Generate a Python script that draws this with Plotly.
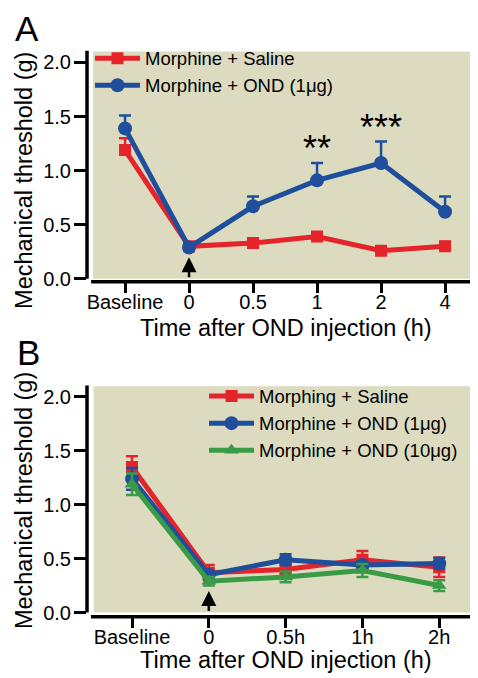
import plotly.graph_objects as go

# ---------------- data ----------------
categories_a = ["Baseline", "0", "0.5", "1", "2", "4"]
saline_a = [1.19, 0.30, 0.33, 0.39, 0.26, 0.30]
saline_a_err = [0.11, 0.03, 0.03, 0.03, 0.03, 0.04]
ond1_a = [1.39, 0.29, 0.67, 0.91, 1.07, 0.62]
ond1_a_err = [0.12, 0.03, 0.09, 0.16, 0.20, 0.14]
sig_a = {"1": ("**", 1.20), "2": ("***", 1.40)}

categories_b = ["Baseline", "0", "0.5h", "1h", "2h"]
saline_b = [1.35, 0.37, 0.40, 0.49, 0.42]
saline_b_err = [0.10, 0.07, 0.05, 0.08, 0.09]
ond1_b = [1.24, 0.35, 0.49, 0.44, 0.455]
ond1_b_err = [0.10, 0.04, 0.05, 0.04, 0.05]
ond10_b = [1.19, 0.29, 0.33, 0.39, 0.25]
ond10_b_err = [0.10, 0.04, 0.05, 0.06, 0.05]

y_ticks = [0.0, 0.5, 1.0, 1.5, 2.0]
y_ticktext = ["0.0", "0.5", "1.0", "1.5", "2.0"]

# ---------------- style ----------------
FONT = "Liberation Sans, Arial, sans-serif"
RED = "#E5232B"
BLUE = "#1F4F9C"
GREEN = "#3A9B47"
BG = "#DDDBBF"
W, H = 478, 678

xa = list(range(len(categories_a)))
xb = list(range(len(categories_b)))

fig = go.Figure()


def add_series(x, y, err, color, symbol, size, name, xaxis, yaxis, legend, upper_only):
    ey = dict(type="data", array=err, color=color, thickness=2.5, width=6, visible=True)
    if upper_only:
        ey["symmetric"] = False
        ey["arrayminus"] = [0] * len(err)
    fig.add_trace(go.Scatter(
        x=x, y=y, mode="lines+markers", name=name,
        line=dict(color=color, width=5),
        marker=dict(color=color, symbol=symbol, size=size),
        error_y=ey, xaxis=xaxis, yaxis=yaxis, legend=legend,
    ))


add_series(xa, saline_a, saline_a_err, RED, "square", 12, "Morphine + Saline", "x", "y", "legend", True)
add_series(xa, ond1_a, ond1_a_err, BLUE, "circle", 14, "Morphine + OND (1μg)", "x", "y", "legend", True)

add_series(xb, saline_b, saline_b_err, RED, "square", 12, "Morphing + Saline", "x2", "y2", "legend2", False)
add_series(xb, ond1_b, ond1_b_err, BLUE, "circle", 14, "Morphine + OND (1μg)", "x2", "y2", "legend2", False)
add_series(xb, ond10_b, ond10_b_err, GREEN, "triangle-up", 13, "Morphine + OND (10μg)", "x2", "y2", "legend2", False)

# ---------------- axes ----------------
xdom = [79 / W, 471 / W]
ydom_a = [1 - 277 / H, 1 - 43 / H]
ydom_b = [1 - 616 / H, 1 - 382 / H]

axis_common = dict(showgrid=False, zeroline=False, showline=False, ticks="outside",
                   tickcolor="black", tickwidth=3, tickfont=dict(family=FONT, size=20, color="black"))

fig.update_layout(
    xaxis=dict(domain=xdom, anchor="y", range=[-0.594, 5.53], tickvals=xa, ticktext=categories_a,
               ticklen=10, ticklabelstandoff=-8, **axis_common),
    yaxis=dict(domain=ydom_a, anchor="x", range=[-0.027, 2.11], tickvals=y_ticks, ticktext=y_ticktext,
               ticklen=12, ticklabelstandoff=-1, **axis_common),
    xaxis2=dict(domain=xdom, anchor="y2", range=[-0.586, 4.518], tickvals=xb, ticktext=categories_b,
                ticklen=10, ticklabelstandoff=-8, **axis_common),
    yaxis2=dict(domain=ydom_b, anchor="x2", range=[-0.039, 2.106], tickvals=y_ticks, ticktext=y_ticktext,
                ticklen=12, ticklabelstandoff=-1, **axis_common),
)

shapes = []
# plot backgrounds
shapes.append(dict(type="rect", xref="x", yref="y", x0=-0.5, x1=len(xa) - 0.5, y0=0, y1=2.1,
                   fillcolor=BG, line=dict(width=0), layer="below"))
shapes.append(dict(type="rect", xref="x2", yref="y2", x0=-0.5, x1=len(xb) - 0.5, y0=0, y1=2.1,
                   fillcolor=BG, line=dict(width=0), layer="below"))
# detached axis lines
for xr, yr, xlo, xhi in [("x", "y", -0.53, 5.53), ("x2", "y2", -0.535, 4.518)]:
    shapes.append(dict(type="line", xref=xr + " domain", yref=yr, x0=0, x1=0, y0=0, y1=2.11,
                       line=dict(color="black", width=3.5)))
    shapes.append(dict(type="line", xref=xr, yref=yr + " domain", x0=xlo, x1=xhi, y0=0, y1=0,
                       line=dict(color="black", width=3.5)))

annotations = []
# significance marks
for cat, (txt, yv) in sig_a.items():
    annotations.append(dict(x=categories_a.index(cat), y=yv, xref="x", yref="y", text=txt,
                            showarrow=False, font=dict(family=FONT, size=36, color="black"),
                            yanchor="middle"))
# injection arrows
for xr, yr, cats in [("x", "y", categories_a), ("x2", "y2", categories_b)]:
    annotations.append(dict(x=cats.index("0"), y=0.2, ax=cats.index("0"), ay=0.0,
                            xref=xr, yref=yr, axref=xr, ayref=yr, text="", showarrow=True,
                            arrowhead=2, arrowsize=1.2, arrowwidth=2.5, arrowcolor="black",
                            standoff=0, startstandoff=0))
# titles
for yc_title, xc_title in [(175, 324), (499, 660)]:
    annotations.append(dict(x=16 / W, y=1 - yc_title / H, xref="paper", yref="paper",
                            text="Mechanical threshold (g)", textangle=-90, showarrow=False,
                            font=dict(family=FONT, size=23.5, color="black"),
                            xanchor="center", yanchor="middle"))
    annotations.append(dict(x=278 / W, y=1 - xc_title / H, xref="paper", yref="paper",
                            text="Time after OND injection (h)", showarrow=False,
                            font=dict(family=FONT, size=23.5, color="black"),
                            xanchor="center", yanchor="middle"))
annotations.append(dict(x=19 / W, y=1 - 21 / H, xref="paper", yref="paper", text="A", showarrow=False,
                        font=dict(family=FONT, size=35, color="black"), xanchor="center", yanchor="middle"))
annotations.append(dict(x=20 / W, y=1 - 349 / H, xref="paper", yref="paper", text="B", showarrow=False,
                        font=dict(family=FONT, size=35, color="black"), xanchor="center", yanchor="middle"))

legend_style = dict(bgcolor="rgba(0,0,0,0)", borderwidth=0, xanchor="left", yanchor="top",
                    font=dict(family=FONT, size=18.5, color="black"), itemwidth=45,
                    tracegroupgap=0)

fig.update_layout(
    width=W, height=H,
    margin=dict(l=0, r=0, t=0, b=0),
    paper_bgcolor="white", plot_bgcolor="rgba(0,0,0,0)",
    shapes=shapes, annotations=annotations,
    showlegend=True,
    legend=dict(x=82 / W, y=1 - 32 / H, **legend_style),
    legend2=dict(x=196 / W, y=1 - 374 / H, **legend_style),
)

fig.write_html("out.html")
